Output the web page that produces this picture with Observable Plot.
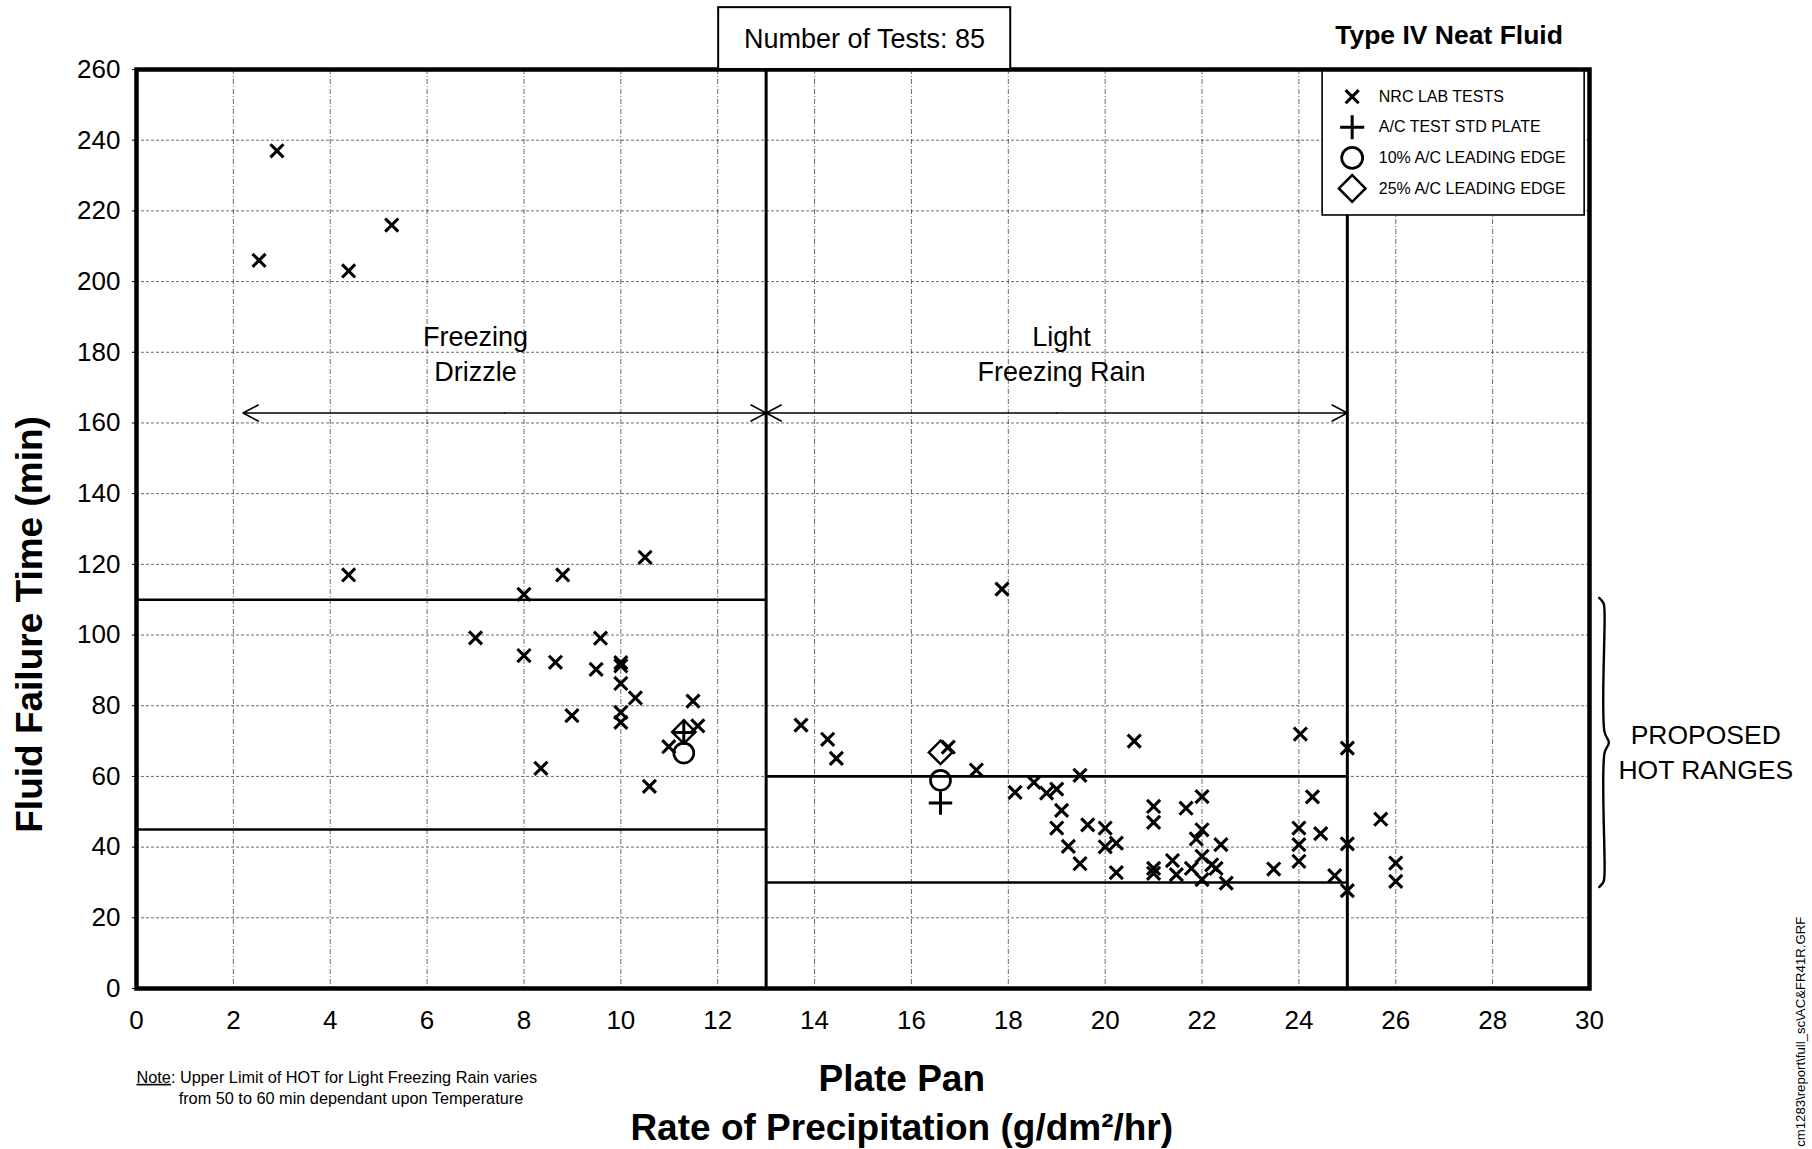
<!DOCTYPE html>
<html>
<head>
<meta charset="utf-8">
<script src="https://cdn.jsdelivr.net/npm/d3@7"></script>
<script src="https://cdn.jsdelivr.net/npm/@observablehq/plot@0.6"></script>
<style>
html, body { margin: 0; padding: 0; background: #fff; }
#chart { width: 1812px; height: 1149px; overflow: hidden; }
</style>
</head>
<body>
<div id="chart"></div>
<script>
// ---- Data ----
const nrcX = [
  2.9, 2.53, 4.38, 5.27, 4.38, 8.8, 10.5, 8.0, 7.0, 9.58, 8.0, 8.65, 9.49, 10.0, 10.0, 10.0, 10.3, 11.49, 8.99, 10.0, 10.0, 11.59, 10.99, 8.35, 10.59,
  17.87, 13.72, 14.27, 14.45, 16.76, 17.34,
  18.14, 18.53, 18.79, 19.0, 19.1, 19.48, 19.0, 19.64, 19.24, 19.48, 20.0, 20.0, 20.23, 20.23, 20.6,
  21.0, 21.0, 21.0, 21.0, 21.39, 21.47, 21.67, 22.0, 22.0, 21.88, 21.78, 22.0, 22.2, 22.29, 22.0, 22.39, 22.5,
  23.48, 24.03, 24.0, 24.0, 24.0, 24.28, 24.45, 24.74, 25.0, 25.0, 25.0, 25.69, 26.0, 26.0
];
const nrcY = [
  237, 206, 203, 216, 117, 117, 122, 111.5, 99.2, 99.1, 94.2, 92.3, 90.3, 92.2, 91.3, 86.3, 82.2, 81.3, 77.2, 78.1, 75.3, 74.3, 68.4, 62.3, 57.2,
  113, 74.5, 70.5, 65.1, 68.3, 61.8,
  55.5, 58.3, 55.3, 56.4, 50.4, 60.3, 45.4, 46.3, 40.2, 35.3, 45.4, 40.1, 41.1, 32.8, 70,
  51.5, 47, 34, 32.6, 36.2, 32.2, 51, 54.3, 44.9, 42.3, 34, 37.4, 35, 34, 30.8, 40.7, 29.8,
  33.8, 72, 45.4, 40.7, 36, 54.2, 43.8, 31.9, 68, 40.9, 27.7, 47.9, 35.5, 30.3
];
const plateX = [11.3, 16.6];
const plateY = [72.4, 52.5];
const edge10X = [11.3, 16.6];
const edge10Y = [66.6, 58.9];
const edge25X = [11.3, 16.6];
const edge25Y = [72.6, 66.8];

// Proposed HOT ranges per precipitation regime
const regimeNames = ["Freezing\nDrizzle", "Light\nFreezing Rain"];
const regimeStart = [2.2, 13];
const regimeEnd = [13, 25];
const hotLow = [45, 30];
const hotHigh = [110, 60];
const hotStart = [0, 13];
const hotEnd = [13, 25];

const xTicks = [0, 2, 4, 6, 8, 10, 12, 14, 16, 18, 20, 22, 24, 26, 28, 30];
const yTicks = [0, 20, 40, 60, 80, 100, 120, 140, 160, 180, 200, 220, 240, 260];

const legendLabels = ["NRC LAB TESTS", "A/C TEST STD PLATE", "10% A/C LEADING EDGE", "25% A/C LEADING EDGE"];
const legendSymbols = ["times", "plus", "circle", "diamond2"];

// ---- Build tables ----
const nrc = nrcX.map((x, i) => ({x, y: nrcY[i]}));
const plate = plateX.map((x, i) => ({x, y: plateY[i]}));
const edge10 = edge10X.map((x, i) => ({x, y: edge10Y[i]}));
const edge25 = edge25X.map((x, i) => ({x, y: edge25Y[i]}));
const hot = hotStart.map((s, i) => ({x1: s, x2: hotEnd[i], lo: hotLow[i], hi: hotHigh[i]}));
const regimes = regimeNames.map((name, i) => ({name, a: regimeStart[i], b: regimeEnd[i], mid: (regimeStart[i] + regimeEnd[i]) / 2}));
const arrowY = 162.8;
const arrows = regimes.flatMap(r => [{x1: r.mid, x2: r.a}, {x1: r.mid, x2: r.b}]);
const labelShift = [-0.6, 0.1]; // label offset from the arrow's midpoint

// legend layout
const legRowY = legendLabels.map((_, i) => 252.3 - i * 8.65);
const legend = legendLabels.map((label, i) => ({label, symbol: legendSymbols[i], y: legRowY[i]}));

// brace built from the combined HOT range
const bTop = 110.5, bBot = 28.7, bMid = (bTop + bBot) / 2, bx = 30.2;
const brace = [
  {x: bx, y: bTop}, {x: bx + 0.09, y: bTop - 1.5}, {x: bx + 0.11, y: bTop - 4},
  {x: bx + 0.11, y: bMid + 3}, {x: bx + 0.2, y: bMid}, {x: bx + 0.11, y: bMid - 3},
  {x: bx + 0.11, y: bBot + 4}, {x: bx + 0.09, y: bBot + 1.5}, {x: bx, y: bBot}
];

const font = "'Liberation Sans', Arial, Helvetica, sans-serif";
const sw = 3.1;

const chart = Plot.plot({
  width: 1812,
  height: 1149,
  marginLeft: 136,
  marginRight: 223,
  marginTop: 69,
  marginBottom: 161,
  style: {fontFamily: font, fontSize: "26px", background: "#fff", color: "#000"},
  x: {domain: [0, 30]},
  y: {domain: [0, 260]},
  marks: [
    Plot.gridX(xTicks, {stroke: "#222", strokeOpacity: 0.75, strokeWidth: 0.9, strokeDasharray: "5,2,1,2"}),
    Plot.gridY(yTicks, {stroke: "#222", strokeOpacity: 0.75, strokeWidth: 0.9, strokeDasharray: "3,2"}),
    Plot.axisX(xTicks, {anchor: "bottom", tickSize: 0, tickPadding: 22, fontSize: 26, label: null}),
    Plot.axisY(yTicks, {anchor: "left", tickSize: 4, tickPadding: 12, fontSize: 26, label: null}),
    // regime dividers
    Plot.ruleX([13, 25], {y1: 0, y2: 260, stroke: "#000", strokeWidth: 3}),
    // proposed HOT range lines
    Plot.ruleY(hot, {y: "hi", x1: "x1", x2: "x2", stroke: "#000", strokeWidth: 2.6}),
    Plot.ruleY(hot, {y: "lo", x1: "x1", x2: "x2", stroke: "#000", strokeWidth: 2.6}),
    // regime arrows + labels
    Plot.arrow(arrows, {x1: "x1", x2: "x2", y1: arrowY, y2: arrowY, stroke: "#000", strokeWidth: 1.6, headLength: 16, headAngle: 56}),
    Plot.text(regimes, {x: (d, i) => d.mid + labelShift[i], y: 180, text: "name", fontSize: 27, lineHeight: 1.3, lineAnchor: "middle", fill: "#000"}),
    // data points
    Plot.dot(nrc, {x: "x", y: "y", symbol: "times", r: 6, stroke: "#000", strokeWidth: sw}),
    Plot.dot(edge25, {x: "x", y: "y", symbol: "diamond2", r: 10.5, stroke: "#000", strokeWidth: 2.5, fill: "none"}),
    Plot.dot(edge10, {x: "x", y: "y", symbol: "circle", r: 10, stroke: "#000", strokeWidth: 2.7, fill: "none"}),
    Plot.dot(plate, {x: "x", y: "y", symbol: "plus", r: 7.6, stroke: "#000", strokeWidth: 3}),
    // legend
    Plot.rect([0], {x1: 24.49, x2: 29.9, y1: 218.7, y2: 260, fill: "#fff", stroke: "#000", strokeWidth: 1.6}),
    Plot.dot(legend.filter(d => d.symbol === "times"), {x: 25.1, y: "y", symbol: "times", r: 6, stroke: "#000", strokeWidth: sw}),
    Plot.dot(legend.filter(d => d.symbol === "plus"), {x: 25.1, y: "y", symbol: "plus", r: 7.8, stroke: "#000", strokeWidth: 3}),
    Plot.dot(legend.filter(d => d.symbol === "circle"), {x: 25.1, y: "y", symbol: "circle", r: 10.5, stroke: "#000", strokeWidth: 2.7, fill: "none"}),
    Plot.dot(legend.filter(d => d.symbol === "diamond2"), {x: 25.1, y: "y", symbol: "diamond2", r: 12, stroke: "#000", strokeWidth: 2.5, fill: "none"}),
    Plot.text(legend, {x: 25.65, y: "y", text: "label", textAnchor: "start", fontSize: 16, fill: "#000"}),
    // frame
    Plot.frame({stroke: "#000", strokeWidth: 4.5}),
    // number of tests box
    Plot.rect([0], {x1: 12.02, x2: 18.05, y1: 260, y2: 277.5, fill: "#fff", stroke: "#000", strokeWidth: 2}),
    Plot.text(["Number of Tests: 85"], {x: 15.03, y: 268.6, fontSize: 27, fill: "#000"}),
    Plot.text(["Type IV Neat Fluid"], {x: 27.1, y: 269.6, fontSize: 26.5, fontWeight: "bold", fill: "#000"}),
    // axis titles
    Plot.text(["Fluid Failure Time (min)"], {x: -2.2, y: 103, rotate: -90, fontSize: 37, fontWeight: "bold", fill: "#000"}),
    Plot.text(["Plate Pan"], {x: 15.8, y: -25.6, fontSize: 37, fontWeight: "bold", fill: "#000"}),
    Plot.text(["Rate of Precipitation (g/dm²/hr)"], {x: 15.8, y: -39.4, fontSize: 37, fontWeight: "bold", fill: "#000"}),
    // note
    Plot.text(["Note: Upper Limit of HOT for Light Freezing Rain varies"], {x: 0, y: -25.2, textAnchor: "start", fontSize: 16.3, fill: "#000"}),
    Plot.text(["from 50 to 60 min dependant upon Temperature"], {x: 0.87, y: -31.1, textAnchor: "start", fontSize: 16.3, fill: "#000"}),
    // proposed HOT ranges annotation
    Plot.line(brace, {x: "x", y: "y", curve: "catmull-rom", stroke: "#000", strokeWidth: 2.4}),
    Plot.text(["PROPOSED\nHOT RANGES"], {x: 32.4, y: 67.3, fontSize: 26.5, lineHeight: 1.3, lineAnchor: "middle", fill: "#000"}),
    // file path
    Plot.text(["cm1283\\report\\full_sc\\AC&FR41R.GRF"], {x: 34.36, y: 20.3, rotate: -90, textAnchor: "end", fontSize: 13.2, fill: "#000"})
  ]
});

document.getElementById("chart").appendChild(chart);

// underline "Note"
d3.select(chart).selectAll("text").filter(function() {
  return this.textContent.startsWith("Note:");
}).each(function() {
  const t = d3.select(this);
  const rest = this.textContent.slice(4);
  t.text(null);
  t.append("tspan").attr("text-decoration", "underline").text("Note");
  t.append("tspan").text(rest);
});
</script>
</body>
</html>
